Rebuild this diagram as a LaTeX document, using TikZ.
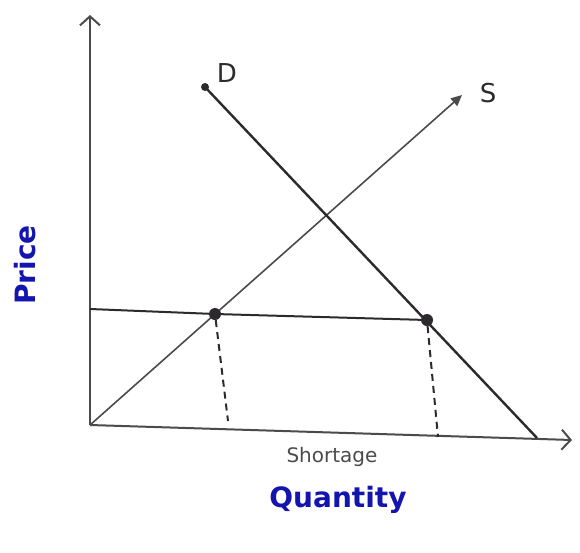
\documentclass[tikz,border=0pt]{standalone}
\usepackage{fontspec}
\setmainfont{DejaVu Sans}
\usetikzlibrary{arrows.meta}
\definecolor{ink}{RGB}{45,42,45}
\definecolor{bluepen}{RGB}{20,20,175}
\tikzset{
  axis/.style={draw=ink!85, line width=2pt},
  curve/.style={draw=ink, line width=2.4pt},
  guide/.style={draw=ink, line width=2pt, dash pattern=on 7pt off 5pt},
  dotpt/.style={circle, fill=ink, inner sep=0pt, minimum size=12pt},
  lab/.style={font=\fontsize{20}{20}\selectfont, text=ink},
  bluelab/.style={font=\fontsize{28}{28}\selectfont\bfseries, text=bluepen},
}
\begin{document}
\begin{tikzpicture}[x=1pt,y=-1pt]
\useasboundingbox (0,0) rectangle (580,552);
% axes
\coordinate (O) at (90,425);
\coordinate (Ytop) at (90,15);
\coordinate (Xend) at (572,440);
\draw[axis, -{Straight Barb[length=9pt,width=20pt,line width=2pt]}] (O) -- (Ytop);
\draw[axis, -{Straight Barb[length=9pt,width=20pt,line width=2pt]}] (O) -- (Xend);
% supply
\coordinate (Send) at (462,95);
\draw[axis, line width=1.6pt, -{Triangle[length=11pt,width=10pt]}] (O) -- (Send);
\node[lab, font=\fontsize{26}{26}\selectfont] (S) at (488,93) {S};
% demand
\coordinate (Dstart) at (205,87);
\coordinate (Dend) at (537,438);
\draw[curve] (Dstart) -- (Dend);
\fill[ink] (Dstart) circle (4pt);
\node[lab, font=\fontsize{26}{26}\selectfont] (D) at (227,73) {D};
% price line
\coordinate (Pstart) at (90,309);
\node[dotpt] (A) at (215,314) {};
\node[dotpt] (B) at (427,320) {};
\draw[curve, line width=2pt] (Pstart) -- (A) -- (B);
% dashed guides
\coordinate (Afoot) at (228,421);
\coordinate (Bfoot) at (438,437);
\draw[guide] (A) -- (Afoot);
\draw[guide] (B) -- (Bfoot);
% labels
\node[lab, text=ink!85] (short) at (332,457) {Shortage};
\node[bluelab] (qty) at (338,500) {Quantity};
\node[bluelab, rotate=90] (price) at (25,265) {Price};
\end{tikzpicture}
\end{document}
